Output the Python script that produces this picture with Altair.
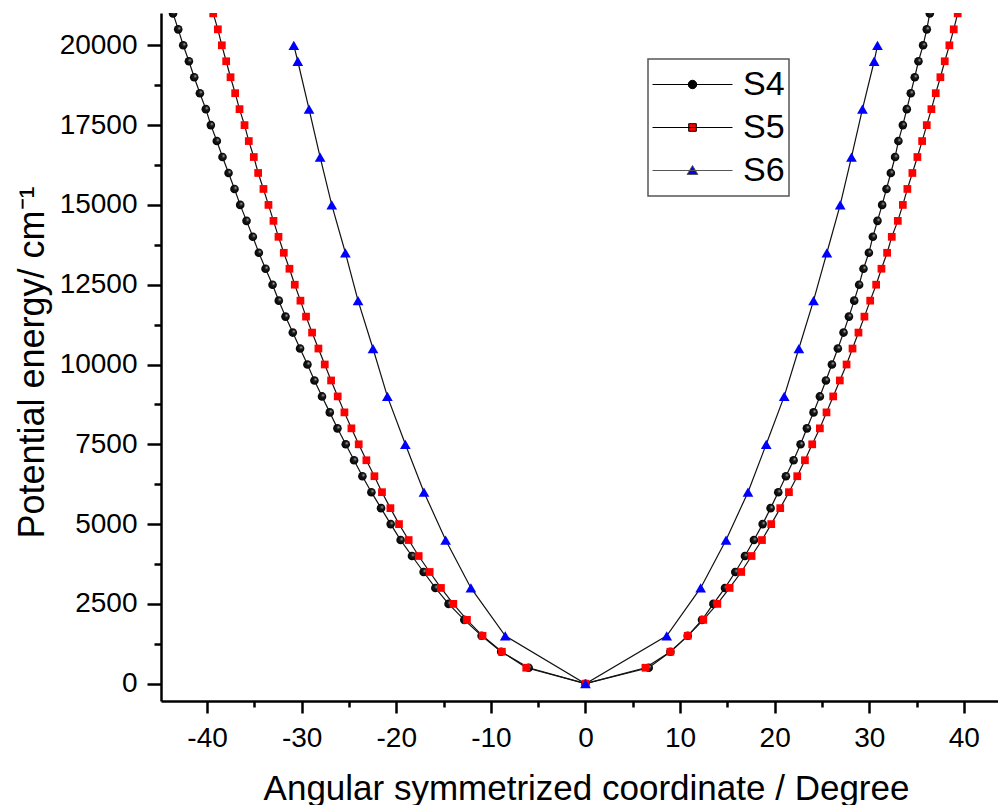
import altair as alt
import pandas as pd

# ---------------- data ----------------
energy_s45 = [0, 500, 1000, 1500, 2000, 2500, 3000, 3500, 4000, 4500, 5000,
              5500, 6000, 6500, 7000, 7500, 8000, 8500, 9000, 9500, 10000,
              10500, 11000, 11500, 12000, 12500, 13000, 13500, 14000, 14500,
              15000, 15500, 16000, 16500, 17000, 17500, 18000, 18500, 19000,
              19500, 20000, 20500, 21000]

s4_left = [0, -6.0, -8.91, -10.98, -12.81, -14.47, -15.87, -17.11, -18.34,
           -19.54, -20.59, -21.61, -22.63, -23.58, -24.46, -25.34, -26.22,
           -27.03, -27.85, -28.65, -29.39, -30.17, -30.94, -31.71, -32.42,
           -33.08, -33.82, -34.53, -35.16, -35.83, -36.50, -37.10, -37.73,
           -38.37, -38.97, -39.60, -40.13, -40.76, -41.36, -41.92, -42.52,
           -43.05, -43.60]
s4_right = [0, 6.69, 8.98, 10.81, 12.32, 13.52, 14.75, 15.84, 16.86, 17.81,
            18.73, 19.57, 20.38, 21.19, 22.00, 22.74, 23.41, 24.11, 24.78,
            25.42, 26.05, 26.68, 27.28, 27.85, 28.41, 28.93, 29.39, 29.96,
            30.38, 30.87, 31.36, 31.82, 32.28, 32.73, 33.08, 33.55, 33.97,
            34.39, 34.81, 35.20, 35.69, 36.08, 36.40]

s5_left = [0, -6.26, -8.84, -10.88, -12.53, -13.97, -15.28, -16.47, -17.63,
           -18.69, -19.71, -20.62, -21.51, -22.31, -23.16, -23.97, -24.74,
           -25.48, -26.19, -26.89, -27.56, -28.23, -28.90, -29.54, -30.13,
           -30.73, -31.29, -31.89, -32.45, -32.98, -33.51, -34.04, -34.60,
           -35.06, -35.59, -36.04, -36.57, -37.03, -37.52, -37.98, -38.44,
           -38.86, -39.35]
s5_right = [0, 6.34, 8.98, 10.81, 12.46, 13.94, 15.24, 16.47, 17.56, 18.66,
            19.64, 20.59, 21.51, 22.39, 23.20, 23.97, 24.78, 25.48, 26.19,
            26.89, 27.60, 28.23, 28.86, 29.49, 30.10, 30.73, 31.29, 31.89,
            32.38, 33.02, 33.55, 34.03, 34.56, 35.09, 35.59, 36.08, 36.57,
            37.03, 37.52, 37.98, 38.47, 38.93, 39.35]

energy_s6 = [0, 1500, 3000, 4500, 6000, 7500, 9000, 10500, 12000, 13500,
             15000, 16500, 18000, 19500, 20000]
s6_left = [0, -8.48, -12.11, -14.78, -17.07, -19.04, -20.94, -22.46, -24.04,
           -25.38, -26.82, -28.05, -29.22, -30.41, -30.83]
s6_right = [0, 8.59, 12.18, 14.86, 17.18, 19.11, 21.01, 22.56, 24.11, 25.52,
            26.93, 28.12, 29.28, 30.52, 30.87]

series_names = ["S4", "S5", "S6"]
x_tick_values = [-40, -35, -30, -25, -20, -15, -10, -5, 0, 5, 10, 15, 20,
                 25, 30, 35, 40]
y_tick_values = [0, 1250, 2500, 3750, 5000, 6250, 7500, 8750, 10000, 11250,
                 12500, 13750, 15000, 16250, 17500, 18750, 20000]


def branch_rows(name, energies, left, right):
    rows = []
    k = 0
    for e, xv in reversed(list(zip(energies, left))):
        rows.append({"series": name, "angle": xv, "energy": e, "order": k})
        k += 1
    for e, xv in list(zip(energies, right))[1:]:
        rows.append({"series": name, "angle": xv, "energy": e, "order": k})
        k += 1
    return rows


rows = (branch_rows("S4", energy_s45, s4_left, s4_right)
        + branch_rows("S5", energy_s45, s5_left, s5_right)
        + branch_rows("S6", energy_s6, s6_left, s6_right))
df = pd.DataFrame(rows)
legend_df = pd.DataFrame({"series": series_names})

FONT = "Liberation Sans"

x_axis = alt.Axis(
    values=x_tick_values,
    title="Angular symmetrized coordinate / Degree",
    titleFont=FONT, titleFontSize=35, titleFontWeight="normal",
    titleColor="black", titleX=425, titleY=98,
    titleBaseline="alphabetic", titleAlign="center",
    labelFont=FONT, labelFontSize=28, labelColor="black",
    labelPadding=11, labelOverlap=False, labelFlush=False,
    labelExpr="datum.value % 10 === 0 ? '' + datum.value : ''",
    tickSize={"condition": {"test": "datum.value % 10 === 0", "value": 12},
              "value": 6},
    tickWidth=2.5, tickColor="black",
    domainColor="black", domainWidth=2.5, grid=False,
)

y_axis = alt.Axis(
    values=y_tick_values,
    title="Potential energy/ cm\u207b\u00b9",
    titleFont=FONT, titleFontSize=36, titleFontWeight="normal",
    titleColor="black", titleX=-118, titleY=349, titleAngle=270,
    titleBaseline="alphabetic", titleAlign="center",
    labelFont=FONT, labelFontSize=28, labelColor="black",
    labelPadding=10, labelOverlap=False, labelFlush=False,
    labelExpr="datum.value % 2500 === 0 ? '' + datum.value : ''",
    tickSize={"condition": {"test": "datum.value % 2500 === 0", "value": 14},
              "value": 7},
    tickWidth=2.5, tickColor="black",
    domainColor="black", domainWidth=2.5, grid=False,
)

x_enc = alt.X("angle:Q", scale=alt.Scale(domain=[-44.87, 43.61], nice=False,
                                         zero=False), axis=x_axis)
y_enc = alt.Y("energy:Q", scale=alt.Scale(domain=[-542, 21012], nice=False,
                                          zero=False), axis=y_axis)

base = alt.Chart(df).encode(x=x_enc, y=y_enc)

line = base.mark_line(color="#111111", strokeWidth=1.2, clip=True).encode(
    detail="series:N", order="order:Q")

sphere = alt.RadialGradient(
    gradient="radial",
    stops=[alt.GradientStop(color="#c8c8c8", offset=0),
           alt.GradientStop(color="#1a1a1a", offset=0.35),
           alt.GradientStop(color="#000000", offset=1)],
    x1=0.66, y1=0.34, r1=0, x2=0.5, y2=0.5, r2=0.55,
)

pts_s4 = base.transform_filter(alt.datum.series == "S4").mark_point(
    shape="circle", filled=True, fill=sphere, size=74, opacity=1,
    strokeWidth=0, clip=True)
pts_s5 = base.transform_filter(alt.datum.series == "S5").mark_point(
    shape="square", filled=True, color="#ff0000", size=60, opacity=1,
    strokeWidth=0, clip=True)
pts_s6 = base.transform_filter(alt.datum.series == "S6").mark_point(
    shape="triangle-up", filled=True, color="#0000ff", size=115, opacity=1,
    strokeWidth=0, clip=True)

# legend symbols: a line with the marker on it
path_s4 = "M-1,0L1,0M-0.106,0A0.106,0.106,0,1,1,0.106,0A0.106,0.106,0,1,1,-0.106,0Z"
path_s5 = "M-1,0L1,0M-0.095,-0.095L0.095,-0.095L0.095,0.095L-0.095,0.095Z"
path_s6 = "M-1,0L1,0M0,-0.125L0.134,0.1L-0.134,0.1Z"

legend = alt.Legend(
    title=None, orient="none", legendX=487, legendY=46,
    symbolSize=6400, symbolStrokeWidth=1, symbolOpacity=1, clipHeight=43,
    labelFont=FONT, labelFontSize=34, labelColor="black", labelOffset=10,
    padding=4, rowPadding=0, strokeColor="#555555", fillColor="white",
)

legend_layer = alt.Chart(legend_df).transform_filter(
    alt.datum.series == "__none__"
).mark_point(filled=True, opacity=1, strokeWidth=1).encode(
    color=alt.Color("series:N", scale=alt.Scale(
        domain=series_names, range=["#000000", "#ff0000", "#0000ff"]),
        legend=legend),
    shape=alt.Shape("series:N", scale=alt.Scale(
        domain=series_names, range=[path_s4, path_s5, path_s6]),
        legend=legend),
    stroke=alt.Stroke("series:N", scale=alt.Scale(
        domain=series_names, range=["#000000", "#000000", "#555555"]),
        legend=legend),
)

chart = alt.layer(line, pts_s4, pts_s5, pts_s6, legend_layer).properties(
    width=837, height=688,
    padding={"left": 153, "top": 5, "right": 0, "bottom": 104},
    autosize=alt.AutoSizeParams(type="none"),
    background="white",
).configure_view(strokeWidth=0).configure_legend(strokeWidth=1.5)

chart.save("out.html", embed_options={"renderer": "svg", "actions": False})
